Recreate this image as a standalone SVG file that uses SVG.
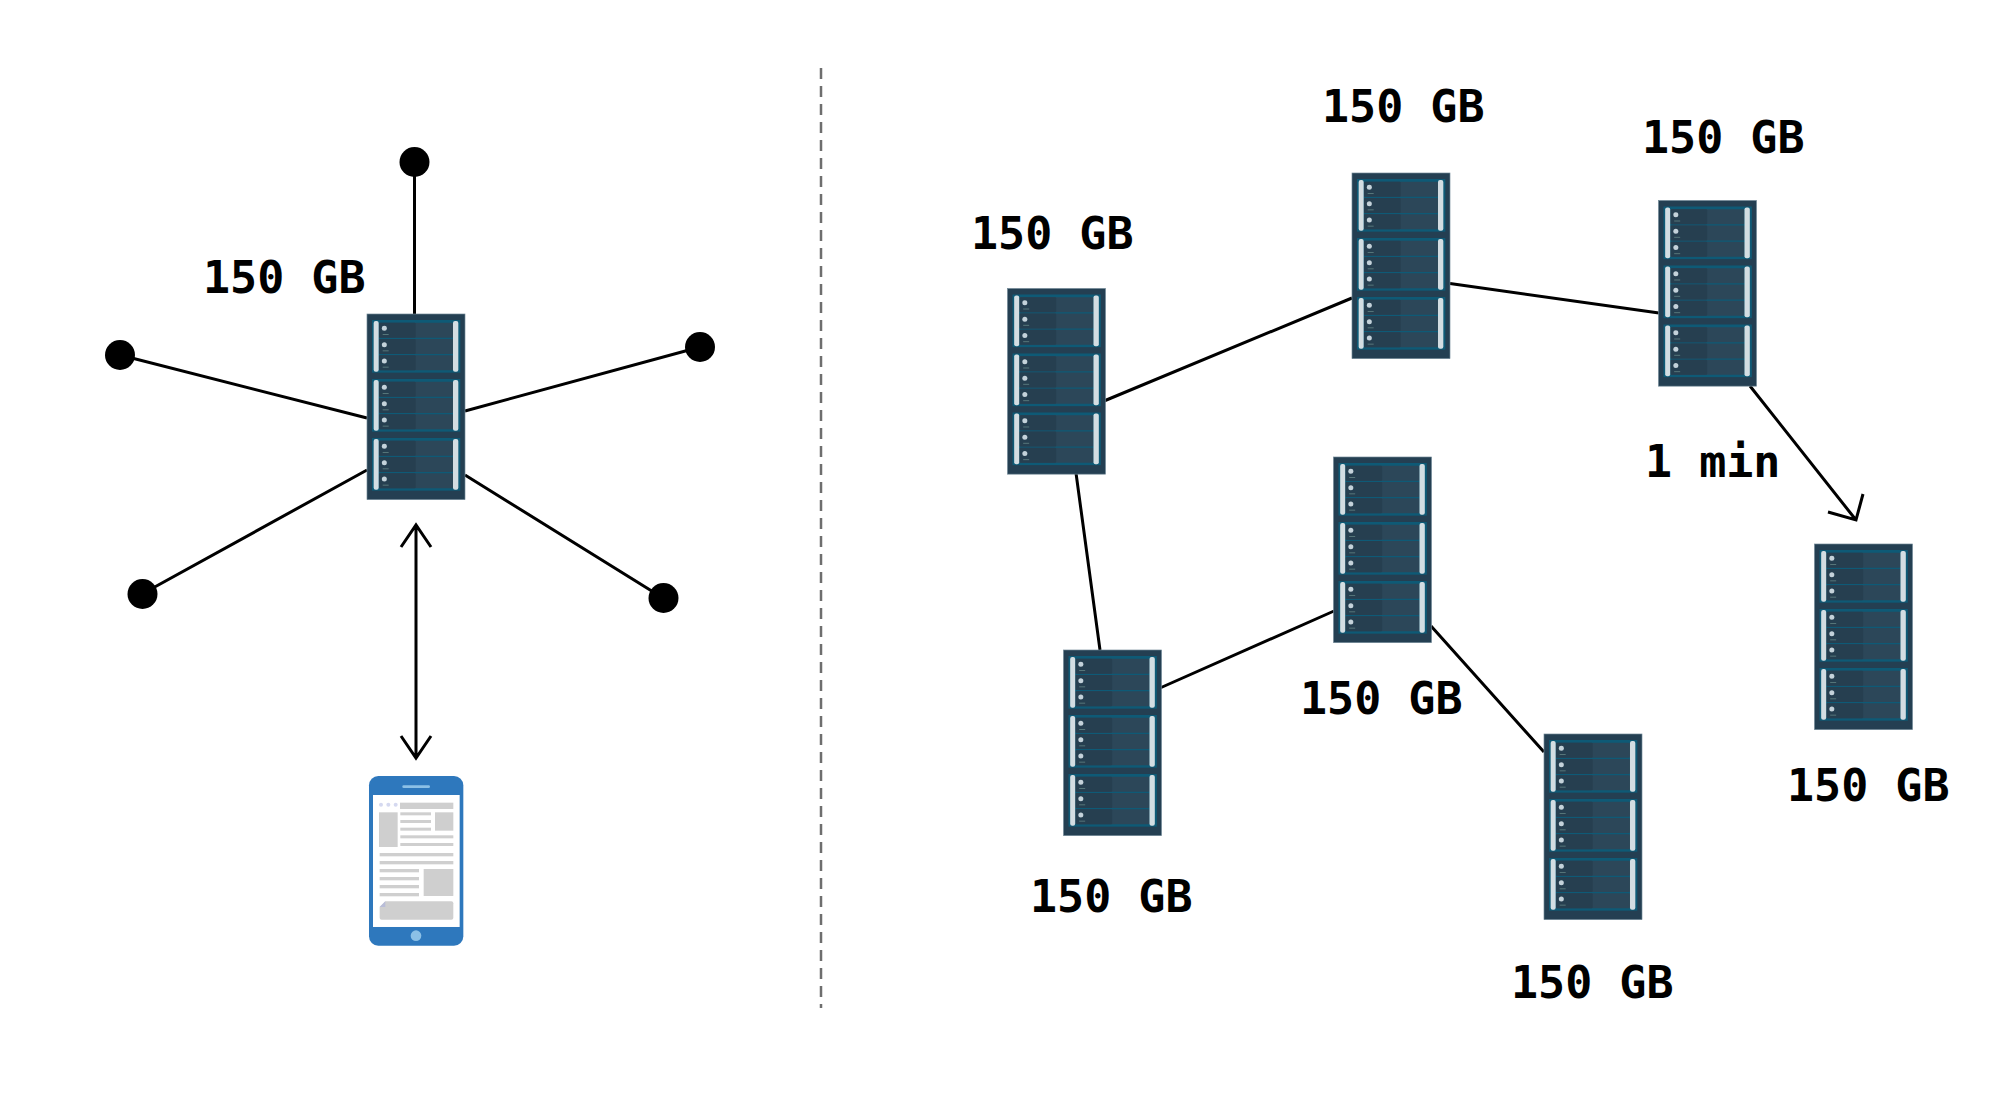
<svg xmlns="http://www.w3.org/2000/svg" xmlns:xlink="http://www.w3.org/1999/xlink" width="1999" height="1107" viewBox="0 0 1999 1107">
<style>
.l{font-family:"DejaVu Sans Mono","Liberation Mono",monospace;font-weight:700;font-size:45px;fill:#000}
.c{fill:none;stroke:#000;stroke-width:3}
.d{fill:#000}
.ph{fill:#cfcfcf}
</style>
<defs>
<g id="row">
<rect x="36" y="0" width="222" height="45" rx="3" fill="#2c4759"/>
<rect x="36" y="0" width="110" height="45" rx="3" fill="#263f50"/>
<circle cx="52" cy="17" r="7.5" fill="#c4d2da"/>
<rect x="47" y="34" width="18" height="3" fill="#56767a"/>
</g>
<g id="panel">
<rect x="15" y="0" width="265" height="158" fill="#0e5a76"/>
<use href="#row" y="8"/><use href="#row" y="57"/><use href="#row" y="106"/>
<rect x="20" y="3" width="15" height="152" rx="6" fill="#d3dde2"/>
<rect x="258" y="3" width="16" height="152" rx="6" fill="#d3dde2"/>
</g>
<g id="server" transform="scale(.3333)">
<rect x="0" y="0" width="294" height="557" fill="#243f52" stroke="#6f8796" stroke-width="2"/>
<use href="#panel" y="18"/><use href="#panel" y="195"/><use href="#panel" y="372"/>
</g>
</defs>
<rect width="1999" height="1107" fill="#fff"/>
<g id="connectors">
<path d="M821 68V1008" fill="none" stroke="#6e6e6e" stroke-width="2.5" stroke-dasharray="11 7"/>
<path class="c" d="M414.500 162V314M120 355L367 418M700 347L465 411M142 594L367 470M663 598L465 475"/>
<path class="c" d="M416 525V758M401 547L416 525L431 547M401 736L416 758L431 736"/>
<path class="c" d="M1104 401L1352 298M1450 283.500L1659 313M1076 473L1100 650M1160 688L1334 611M1431 626L1544 752"/>
<path class="c" d="M1750 386L1856 520M1828 512L1856 520L1863 494"/>
</g>
<g id="dots">
<circle class="d" cx="414.500" cy="162" r="15"/>
<circle class="d" cx="120" cy="355" r="15"/>
<circle class="d" cx="700" cy="347" r="15"/>
<circle class="d" cx="142.500" cy="594" r="15"/>
<circle class="d" cx="663.500" cy="598" r="15"/>
</g>
<g id="server0"><use href="#server" transform="translate(367 314)"/><text class="l" x="203" y="293">150 GB</text></g>
<g id="server1"><use href="#server" transform="translate(1007.500 288.500)"/><text class="l" x="971" y="249">150 GB</text></g>
<g id="server2"><use href="#server" transform="translate(1352 173)"/><text class="l" x="1322" y="122">150 GB</text></g>
<g id="server3"><use href="#server" transform="translate(1658.500 200.500)"/><text class="l" x="1642" y="153">150 GB</text><text class="l" x="1645" y="477">1 min</text></g>
<g id="server4"><use href="#server" transform="translate(1333.500 457)"/><text class="l" x="1300" y="714">150 GB</text></g>
<g id="server5"><use href="#server" transform="translate(1063.500 650)"/><text class="l" x="1030" y="912">150 GB</text></g>
<g id="server6"><use href="#server" transform="translate(1544 734)"/><text class="l" x="1511" y="998">150 GB</text></g>
<g id="server7"><use href="#server" transform="translate(1814.500 544)"/><text class="l" x="1787" y="801">150 GB</text></g>
<g id="phone" transform="translate(350 760) scale(.3333)">
<rect x="57" y="48" width="283" height="509" rx="28" fill="#2e78bd"/>
<rect x="157" y="76" width="83" height="8" rx="4" fill="#8cc0e6"/>
<rect x="69" y="105" width="260" height="396" fill="#fff"/>
<circle cx="198" cy="527" r="16" fill="#8cc0e6"/>
<g fill="#d5d9f0"><circle cx="93" cy="134" r="6"/><circle cx="115" cy="134" r="6"/><circle cx="137" cy="134" r="6"/></g>
<rect class="ph" x="150" y="128" width="160" height="19"/>
<rect class="ph" x="87" y="157" width="56" height="104"/>
<rect class="ph" x="151" y="157" width="92" height="9"/>
<rect class="ph" x="151" y="180" width="92" height="9"/>
<rect class="ph" x="151" y="203" width="92" height="9"/>
<rect class="ph" x="255" y="157" width="55" height="55"/>
<rect class="ph" x="151" y="226" width="159" height="9"/>
<rect class="ph" x="151" y="249" width="159" height="9"/>
<rect class="ph" x="89" y="279" width="221" height="10"/>
<rect class="ph" x="89" y="303" width="221" height="10"/>
<rect class="ph" x="89" y="327" width="118" height="10"/>
<rect class="ph" x="89" y="351" width="118" height="10"/>
<rect class="ph" x="89" y="375" width="118" height="10"/>
<rect class="ph" x="89" y="399" width="118" height="10"/>
<rect class="ph" x="221" y="327" width="89" height="81"/>
<path class="ph" d="M106 424H304a6 6 0 0 1 6 6V473a6 6 0 0 1-6 6H95a6 6 0 0 1-6-6V441Z"/>
<path d="M106 424V441H89Z" fill="#b9bdd8"/>
</g>
</svg>
